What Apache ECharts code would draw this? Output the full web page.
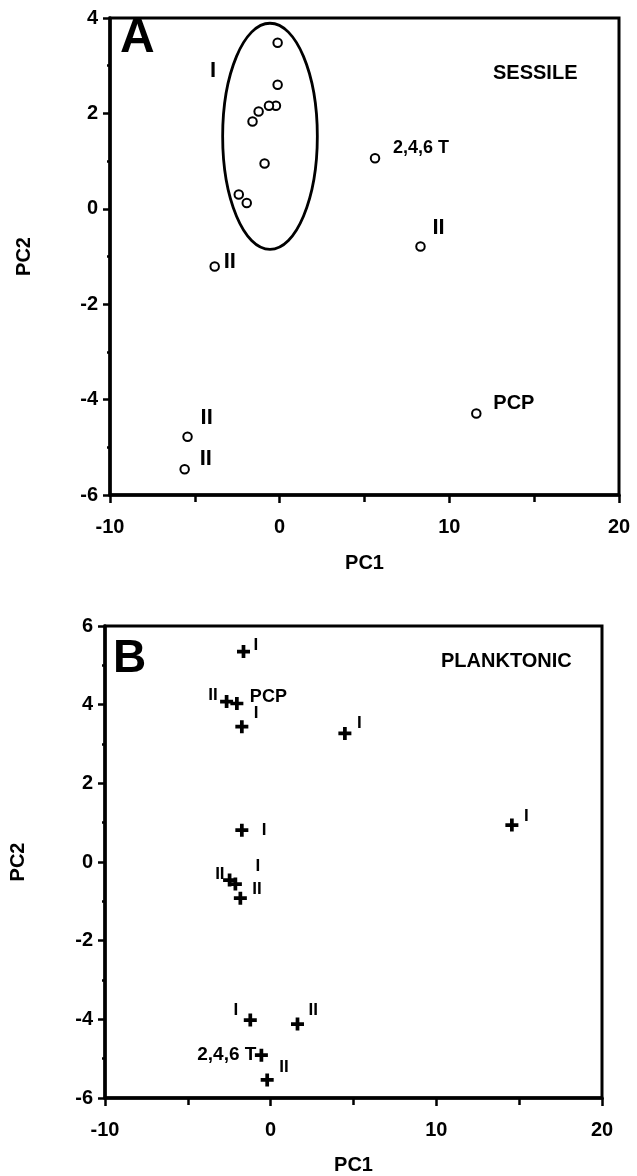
<!DOCTYPE html>
<html>
<head>
<meta charset="utf-8">
<script src="https://cdn.jsdelivr.net/npm/echarts@6/dist/echarts.min.js"></script>
<style>
  html, body { margin: 0; padding: 0; background: #fff; }
  #chart { width: 637px; height: 1176px; }
</style>
</head>
<body>
<div id="chart"></div>
<script>
// ---- Data: principal component scores ----
// Panel A: sessile communities
const sessilePC1 = [-0.12, -0.12, -0.22, -0.63, -1.24, -1.60, -0.89, -2.41, -1.94, 5.62, 8.30, -3.83, -5.43, -5.60, 11.59];
const sessilePC2 = [3.48, 2.60, 2.16, 2.16, 2.04, 1.83, 0.95, 0.30, 0.12, 1.06, -0.79, -1.21, -4.78, -5.46, -4.29];
const sessileLabels = ['', '', '', '', '', '', '', '', '', '2,4,6 T', 'II', 'II', 'II', 'II', 'PCP'];

// Group I enclosure in panel A (centre, semi-axes, group label anchor), data units
const groupICenter = [-0.57, 1.52];
const groupIRadii = [2.79, 2.37];
const groupILabelAt = [-3.93, 2.89];
const groupILabel = 'I';

// Panel B: planktonic communities
const planktonicPC1 = [-1.64, -2.66, -2.04, -1.74, 4.48, -1.74, 14.56, -2.48, -2.13, -1.83, -1.23, 1.62, -0.56, -0.21];
const planktonicPC2 = [5.35, 4.08, 4.03, 3.44, 3.27, 0.81, 0.94, -0.46, -0.56, -0.92, -4.02, -4.12, -4.91, -5.54];
const planktonicLabels = ['I', 'II', 'PCP', 'I', 'I', 'I', 'I', 'II', 'I', 'II', 'I', 'II', '2,4,6 T', 'II'];

// Axis ranges
const pc1Range = [-10, 20];
const pc2RangeA = [-6, 4];
const pc2RangeB = [-6, 6];
const panelTitles = ['A', 'B'];
const panelNames = ['SESSILE', 'PLANKTONIC'];

// ---- Label placement (style): [dx, dy, align, fontSize] relative to the marker centre ----
const labelStyleA = [
  null, null, null, null, null, null, null, null, null,
  [18, -10, 'left', 18],
  [12, -19, 'left', 22],
  [9, -5, 'left', 22],
  [13, -19, 'left', 22],
  [15, -10, 'left', 22],
  [17, -10, 'left', 20]
];
const labelStyleB = [
  [10, -6, 'left', 17],
  [-9, -6, 'right', 17],
  [13, -6, 'left', 18],
  [12, -13, 'left', 17],
  [12, -10, 'left', 17],
  [20, 0, 'left', 17],
  [12, -9, 'left', 17],
  [-5, -6, 'right', 17],
  [20, -18, 'left', 17],
  [12, -9, 'left', 17],
  [-12, -10, 'right', 17],
  [11, -14, 'left', 17],
  [-5, 0, 'right', 19],
  [12, -13, 'left', 17]
];

const FONT = '"Liberation Sans", Arial, sans-serif';
const INK = '#000';
const PLUS = 'path://M5,0H9V5H14V9H9V14H5V9H0V5H5Z';

function buildPoints(xs, ys, labels, styles) {
  return xs.map((x, i) => {
    const st = styles[i];
    const item = { value: [x, ys[i]] };
    if (labels[i] && st) {
      item.label = {
        show: true,
        formatter: labels[i],
        position: 'inside',
        align: st[2],
        verticalAlign: 'middle',
        offset: [st[0], st[1]],
        color: INK,
        opacity: 1,
        fontFamily: FONT,
        fontWeight: 'bold',
        fontSize: st[3]
      };
    }
    return item;
  });
}

function xAxisFor(gridIndex) {
  return {
    gridIndex: gridIndex,
    type: 'value',
    min: pc1Range[0], max: pc1Range[1], interval: 10,
    name: 'PC1', nameLocation: 'middle', nameGap: gridIndex === 0 ? 58 : 57,
    nameTextStyle: { color: INK, fontFamily: FONT, fontWeight: 'bold', fontSize: 20 },
    axisLine: { show: true, onZero: false, lineStyle: { color: INK, width: 3.5 } },
    axisTick: { show: true, inside: false, length: 8, lineStyle: { color: INK, width: 2.5 } },
    minorTick: { show: true, splitNumber: 2, length: 7, lineStyle: { color: INK, width: 2.5 } },
    axisLabel: { color: INK, fontFamily: FONT, fontWeight: 'bold', fontSize: 20, margin: 22 },
    splitLine: { show: false },
    minorSplitLine: { show: false }
  };
}

function yAxisFor(gridIndex, range) {
  return {
    gridIndex: gridIndex,
    type: 'value',
    min: range[0], max: range[1], interval: 2,
    name: 'PC2', nameLocation: 'middle', nameGap: gridIndex === 0 ? 76 : 77, nameRotate: 90,
    nameTextStyle: { color: INK, fontFamily: FONT, fontWeight: 'bold', fontSize: 20 },
    axisLine: { show: true, onZero: false, lineStyle: { color: INK, width: 3.5 } },
    axisTick: { show: true, inside: false, length: 7, lineStyle: { color: INK, width: 2.5 } },
    minorTick: { show: true, splitNumber: 2, length: 3, lineStyle: { color: INK, width: 2.5 } },
    axisLabel: { color: INK, fontFamily: FONT, fontWeight: 'bold', fontSize: 20, margin: 12 },
    splitLine: { show: false },
    minorSplitLine: { show: false }
  };
}

const chart = echarts.init(document.getElementById('chart'), null, { renderer: 'canvas' });

chart.setOption({
  backgroundColor: '#fff',
  animation: false,
  grid: [
    { left: 110, top: 18, width: 509, height: 477, show: true, borderColor: INK, borderWidth: 3, backgroundColor: 'transparent' },
    { left: 95, top: 626, width: 507, height: 472, show: true, borderColor: INK, borderWidth: 3, backgroundColor: 'transparent' }
  ],
  xAxis: [xAxisFor(0), xAxisFor(1)],
  yAxis: [yAxisFor(0, pc2RangeA), yAxisFor(1, pc2RangeB)],
  graphic: [
    { type: 'text', left: 120, top: 15, style: { text: panelTitles[0], fill: INK, font: 'bold 48px ' + FONT } },
    { type: 'text', left: 113, top: 636, style: { text: panelTitles[1], fill: INK, font: 'bold 46px ' + FONT } },
    { type: 'text', left: 493, top: 63, style: { text: panelNames[0], fill: INK, font: 'bold 20px ' + FONT } },
    { type: 'text', left: 441, top: 651, style: { text: panelNames[1], fill: INK, font: 'bold 20px ' + FONT } }
  ],
  series: [
    {
      // enclosure around group I
      type: 'custom',
      xAxisIndex: 0, yAxisIndex: 0,
      silent: true,
      data: [groupICenter],
      renderItem: function (params, api) {
        const c = api.coord(groupICenter);
        const s = api.size(groupIRadii);
        const lp = api.coord(groupILabelAt);
        return {
          type: 'group',
          children: [
            { type: 'ellipse', shape: { cx: c[0], cy: c[1], rx: s[0], ry: s[1] },
              style: { fill: 'none', stroke: INK, lineWidth: 2.8 } },
            { type: 'text', x: lp[0], y: lp[1],
              style: { text: groupILabel, fill: INK, font: 'bold 22px ' + FONT, align: 'center', verticalAlign: 'middle' } }
          ]
        };
      },
      z: 3
    },
    {
      name: 'SESSILE',
      type: 'scatter',
      xAxisIndex: 0, yAxisIndex: 0,
      symbol: 'emptyCircle',
      symbolSize: 8.5,
      itemStyle: { color: INK, borderColor: INK, borderWidth: 2.8, opacity: 1 },
      data: buildPoints(sessilePC1, sessilePC2, sessileLabels, labelStyleA),
      z: 4
    },
    {
      name: 'PLANKTONIC',
      type: 'scatter',
      xAxisIndex: 1, yAxisIndex: 1,
      symbol: PLUS,
      symbolSize: 13,
      itemStyle: { color: INK, opacity: 1 },
      data: buildPoints(planktonicPC1, planktonicPC2, planktonicLabels, labelStyleB),
      z: 4
    }
  ]
});
</script>
</body>
</html>
